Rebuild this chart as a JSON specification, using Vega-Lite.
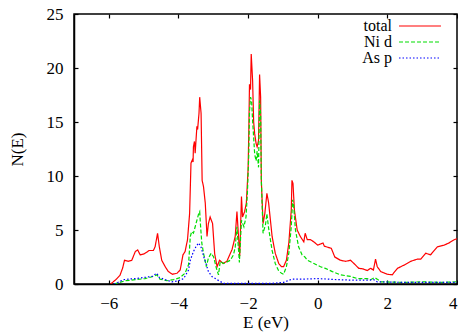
{
  "$schema": "https://vega.github.io/schema/vega-lite/v6.json",
  "width": 383,
  "height": 270,
  "autosize": "none",
  "padding": {"left": 74, "top": 14, "right": 1, "bottom": 49},
  "background": "white",
  "config": {
    "view": {"stroke": "black", "strokeWidth": 1.5},
    "font": "Liberation Serif",
    "axis": {
      "grid": false,
      "domainColor": "black",
      "domainWidth": 1.5,
      "tickColor": "black",
      "tickWidth": 1.2,
      "tickSize": -4,
      "labelFont": "Liberation Serif",
      "labelFontSize": 17,
      "labelColor": "black",
      "labelPadding": 15,
      "titleFont": "Liberation Serif",
      "titleFontSize": 17,
      "titleFontWeight": "normal",
      "titleColor": "black"
    },
    "legend": {
      "labelFont": "Liberation Serif",
      "labelFontSize": 16,
      "labelColor": "black"
    }
  },
  "data": {
    "values": [
      {"E": -5.95, "N": 0, "s": "total"},
      {"E": -5.8, "N": 0.4, "s": "total"},
      {"E": -5.68, "N": 0.8, "s": "total"},
      {"E": -5.6, "N": 1.5, "s": "total"},
      {"E": -5.55, "N": 2.2, "s": "total"},
      {"E": -5.44, "N": 2.1, "s": "total"},
      {"E": -5.34, "N": 2.2, "s": "total"},
      {"E": -5.24, "N": 3.0, "s": "total"},
      {"E": -5.17, "N": 3.15, "s": "total"},
      {"E": -5.1, "N": 2.7, "s": "total"},
      {"E": -4.98, "N": 2.8, "s": "total"},
      {"E": -4.84, "N": 3.1, "s": "total"},
      {"E": -4.72, "N": 3.1, "s": "total"},
      {"E": -4.67, "N": 3.45, "s": "total"},
      {"E": -4.6, "N": 4.7, "s": "total"},
      {"E": -4.55, "N": 3.45, "s": "total"},
      {"E": -4.48, "N": 2.2, "s": "total"},
      {"E": -4.38, "N": 1.6, "s": "total"},
      {"E": -4.29, "N": 1.15, "s": "total"},
      {"E": -4.17, "N": 0.9, "s": "total"},
      {"E": -4.04, "N": 1.0, "s": "total"},
      {"E": -3.95, "N": 1.3, "s": "total"},
      {"E": -3.87, "N": 2.7, "s": "total"},
      {"E": -3.81, "N": 3.0, "s": "total"},
      {"E": -3.74, "N": 4.1, "s": "total"},
      {"E": -3.68, "N": 6.5, "s": "total"},
      {"E": -3.64, "N": 11.2, "s": "total"},
      {"E": -3.6, "N": 11.5, "s": "total"},
      {"E": -3.58, "N": 11.3, "s": "total"},
      {"E": -3.57, "N": 12.7, "s": "total"},
      {"E": -3.54, "N": 13.2, "s": "total"},
      {"E": -3.52, "N": 12.1, "s": "total"},
      {"E": -3.47, "N": 14.6, "s": "total"},
      {"E": -3.45, "N": 14.3, "s": "total"},
      {"E": -3.41, "N": 15.8, "s": "total"},
      {"E": -3.39, "N": 17.3, "s": "total"},
      {"E": -3.35, "N": 15.8, "s": "total"},
      {"E": -3.32, "N": 9.6, "s": "total"},
      {"E": -3.28, "N": 9.0, "s": "total"},
      {"E": -3.23, "N": 7.5, "s": "total"},
      {"E": -3.18, "N": 4.4, "s": "total"},
      {"E": -3.14, "N": 5.6, "s": "total"},
      {"E": -3.09, "N": 6.2, "s": "total"},
      {"E": -3.02, "N": 5.6, "s": "total"},
      {"E": -2.96, "N": 2.8, "s": "total"},
      {"E": -2.89, "N": 1.6, "s": "total"},
      {"E": -2.82, "N": 2.2, "s": "total"},
      {"E": -2.72, "N": 1.9, "s": "total"},
      {"E": -2.61, "N": 2.1, "s": "total"},
      {"E": -2.46, "N": 3.2, "s": "total"},
      {"E": -2.37, "N": 4.4, "s": "total"},
      {"E": -2.32, "N": 6.7, "s": "total"},
      {"E": -2.24, "N": 2.6, "s": "total"},
      {"E": -2.19, "N": 8.1, "s": "total"},
      {"E": -2.16, "N": 6.2, "s": "total"},
      {"E": -2.1, "N": 6.7, "s": "total"},
      {"E": -2.05, "N": 7.5, "s": "total"},
      {"E": -2.0, "N": 10.6, "s": "total"},
      {"E": -1.98, "N": 14.0, "s": "total"},
      {"E": -1.96, "N": 18.5, "s": "total"},
      {"E": -1.93, "N": 18.0, "s": "total"},
      {"E": -1.91, "N": 21.3, "s": "total"},
      {"E": -1.87, "N": 18.8, "s": "total"},
      {"E": -1.84, "N": 15.0, "s": "total"},
      {"E": -1.81, "N": 13.9, "s": "total"},
      {"E": -1.77, "N": 13.0, "s": "total"},
      {"E": -1.74, "N": 12.7, "s": "total"},
      {"E": -1.7, "N": 13.3, "s": "total"},
      {"E": -1.67, "N": 19.4, "s": "total"},
      {"E": -1.64, "N": 17.3, "s": "total"},
      {"E": -1.62, "N": 9.6, "s": "total"},
      {"E": -1.57, "N": 5.6, "s": "total"},
      {"E": -1.52, "N": 6.5, "s": "total"},
      {"E": -1.46, "N": 8.4, "s": "total"},
      {"E": -1.41, "N": 7.5, "s": "total"},
      {"E": -1.31, "N": 4.4, "s": "total"},
      {"E": -1.22, "N": 2.85, "s": "total"},
      {"E": -1.12, "N": 1.9, "s": "total"},
      {"E": -1.04, "N": 1.6, "s": "total"},
      {"E": -0.98, "N": 1.6, "s": "total"},
      {"E": -0.9, "N": 2.2, "s": "total"},
      {"E": -0.83, "N": 3.8, "s": "total"},
      {"E": -0.76, "N": 6.85, "s": "total"},
      {"E": -0.74, "N": 9.6, "s": "total"},
      {"E": -0.71, "N": 9.3, "s": "total"},
      {"E": -0.67, "N": 6.85, "s": "total"},
      {"E": -0.59, "N": 5.0, "s": "total"},
      {"E": -0.5, "N": 4.4, "s": "total"},
      {"E": -0.4, "N": 3.9, "s": "total"},
      {"E": -0.36, "N": 4.7, "s": "total"},
      {"E": -0.3, "N": 4.1, "s": "total"},
      {"E": -0.21, "N": 4.1, "s": "total"},
      {"E": -0.11, "N": 3.9, "s": "total"},
      {"E": 0.0, "N": 3.6, "s": "total"},
      {"E": 0.15, "N": 3.8, "s": "total"},
      {"E": 0.19, "N": 3.5, "s": "total"},
      {"E": 0.29, "N": 3.4, "s": "total"},
      {"E": 0.39, "N": 3.3, "s": "total"},
      {"E": 0.49, "N": 2.5, "s": "total"},
      {"E": 0.65, "N": 2.2, "s": "total"},
      {"E": 0.8, "N": 2.1, "s": "total"},
      {"E": 0.94, "N": 2.2, "s": "total"},
      {"E": 1.04, "N": 1.9, "s": "total"},
      {"E": 1.18, "N": 1.45, "s": "total"},
      {"E": 1.3, "N": 1.4, "s": "total"},
      {"E": 1.42, "N": 1.25, "s": "total"},
      {"E": 1.52, "N": 1.45, "s": "total"},
      {"E": 1.6, "N": 1.3, "s": "total"},
      {"E": 1.66, "N": 2.3, "s": "total"},
      {"E": 1.71, "N": 1.6, "s": "total"},
      {"E": 1.81, "N": 1.15, "s": "total"},
      {"E": 2.0, "N": 0.9, "s": "total"},
      {"E": 2.14, "N": 0.85, "s": "total"},
      {"E": 2.29, "N": 1.45, "s": "total"},
      {"E": 2.48, "N": 1.75, "s": "total"},
      {"E": 2.67, "N": 2.1, "s": "total"},
      {"E": 2.86, "N": 2.3, "s": "total"},
      {"E": 2.96, "N": 2.3, "s": "total"},
      {"E": 3.1, "N": 2.85, "s": "total"},
      {"E": 3.24, "N": 2.7, "s": "total"},
      {"E": 3.44, "N": 3.45, "s": "total"},
      {"E": 3.63, "N": 3.6, "s": "total"},
      {"E": 3.77, "N": 3.8, "s": "total"},
      {"E": 3.92, "N": 4.1, "s": "total"},
      {"E": 4.0, "N": 4.2, "s": "total"},

      {"E": -5.85, "N": 0, "s": "Ni d"},
      {"E": -5.53, "N": 0.3, "s": "Ni d"},
      {"E": -5.24, "N": 0.4, "s": "Ni d"},
      {"E": -4.96, "N": 0.5, "s": "Ni d"},
      {"E": -4.72, "N": 0.7, "s": "Ni d"},
      {"E": -4.62, "N": 0.85, "s": "Ni d"},
      {"E": -4.53, "N": 0.45, "s": "Ni d"},
      {"E": -4.33, "N": 0.3, "s": "Ni d"},
      {"E": -4.14, "N": 0.4, "s": "Ni d"},
      {"E": -3.95, "N": 0.6, "s": "Ni d"},
      {"E": -3.81, "N": 1.0, "s": "Ni d"},
      {"E": -3.71, "N": 1.8, "s": "Ni d"},
      {"E": -3.66, "N": 4.4, "s": "Ni d"},
      {"E": -3.62, "N": 4.85, "s": "Ni d"},
      {"E": -3.57, "N": 4.7, "s": "Ni d"},
      {"E": -3.52, "N": 5.3, "s": "Ni d"},
      {"E": -3.47, "N": 5.9, "s": "Ni d"},
      {"E": -3.42, "N": 6.5, "s": "Ni d"},
      {"E": -3.39, "N": 6.7, "s": "Ni d"},
      {"E": -3.37, "N": 5.6, "s": "Ni d"},
      {"E": -3.33, "N": 3.8, "s": "Ni d"},
      {"E": -3.28, "N": 2.85, "s": "Ni d"},
      {"E": -3.2, "N": 1.6, "s": "Ni d"},
      {"E": -3.14, "N": 2.4, "s": "Ni d"},
      {"E": -3.06, "N": 2.85, "s": "Ni d"},
      {"E": -2.99, "N": 2.5, "s": "Ni d"},
      {"E": -2.91, "N": 1.45, "s": "Ni d"},
      {"E": -2.85, "N": 0.85, "s": "Ni d"},
      {"E": -2.8, "N": 2.1, "s": "Ni d"},
      {"E": -2.7, "N": 1.9, "s": "Ni d"},
      {"E": -2.51, "N": 2.2, "s": "Ni d"},
      {"E": -2.42, "N": 2.7, "s": "Ni d"},
      {"E": -2.37, "N": 3.4, "s": "Ni d"},
      {"E": -2.32, "N": 5.3, "s": "Ni d"},
      {"E": -2.25, "N": 2.0, "s": "Ni d"},
      {"E": -2.19, "N": 5.9, "s": "Ni d"},
      {"E": -2.12, "N": 5.3, "s": "Ni d"},
      {"E": -2.06, "N": 6.2, "s": "Ni d"},
      {"E": -2.02, "N": 8.4, "s": "Ni d"},
      {"E": -1.98, "N": 12.0, "s": "Ni d"},
      {"E": -1.96, "N": 16.0, "s": "Ni d"},
      {"E": -1.93, "N": 17.3, "s": "Ni d"},
      {"E": -1.9, "N": 17.0, "s": "Ni d"},
      {"E": -1.87, "N": 15.1, "s": "Ni d"},
      {"E": -1.81, "N": 12.0, "s": "Ni d"},
      {"E": -1.77, "N": 11.4, "s": "Ni d"},
      {"E": -1.74, "N": 12.3, "s": "Ni d"},
      {"E": -1.7, "N": 10.8, "s": "Ni d"},
      {"E": -1.67, "N": 17.0, "s": "Ni d"},
      {"E": -1.64, "N": 15.7, "s": "Ni d"},
      {"E": -1.62, "N": 9.6, "s": "Ni d"},
      {"E": -1.57, "N": 4.7, "s": "Ni d"},
      {"E": -1.5, "N": 5.5, "s": "Ni d"},
      {"E": -1.46, "N": 6.5, "s": "Ni d"},
      {"E": -1.41, "N": 5.15, "s": "Ni d"},
      {"E": -1.31, "N": 3.1, "s": "Ni d"},
      {"E": -1.22, "N": 1.9, "s": "Ni d"},
      {"E": -1.12, "N": 1.2, "s": "Ni d"},
      {"E": -1.04, "N": 1.0, "s": "Ni d"},
      {"E": -0.98, "N": 0.9, "s": "Ni d"},
      {"E": -0.9, "N": 1.6, "s": "Ni d"},
      {"E": -0.83, "N": 2.85, "s": "Ni d"},
      {"E": -0.76, "N": 5.3, "s": "Ni d"},
      {"E": -0.72, "N": 7.8, "s": "Ni d"},
      {"E": -0.69, "N": 7.2, "s": "Ni d"},
      {"E": -0.64, "N": 5.0, "s": "Ni d"},
      {"E": -0.55, "N": 3.45, "s": "Ni d"},
      {"E": -0.45, "N": 2.7, "s": "Ni d"},
      {"E": -0.37, "N": 2.5, "s": "Ni d"},
      {"E": -0.3, "N": 2.2, "s": "Ni d"},
      {"E": -0.11, "N": 1.9, "s": "Ni d"},
      {"E": 0.08, "N": 1.6, "s": "Ni d"},
      {"E": 0.22, "N": 1.45, "s": "Ni d"},
      {"E": 0.42, "N": 1.15, "s": "Ni d"},
      {"E": 0.65, "N": 0.85, "s": "Ni d"},
      {"E": 0.94, "N": 0.7, "s": "Ni d"},
      {"E": 1.14, "N": 0.5, "s": "Ni d"},
      {"E": 1.42, "N": 0.5, "s": "Ni d"},
      {"E": 1.52, "N": 0.4, "s": "Ni d"},
      {"E": 1.63, "N": 0.6, "s": "Ni d"},
      {"E": 1.71, "N": 0.45, "s": "Ni d"},
      {"E": 1.81, "N": 0.2, "s": "Ni d"},
      {"E": 2.5, "N": 0.15, "s": "Ni d"},
      {"E": 3.0, "N": 0.2, "s": "Ni d"},
      {"E": 3.5, "N": 0.15, "s": "Ni d"},
      {"E": 4.0, "N": 0.2, "s": "Ni d"},

      {"E": -5.85, "N": 0, "s": "As p"},
      {"E": -5.77, "N": 0.1, "s": "As p"},
      {"E": -5.58, "N": 0.4, "s": "As p"},
      {"E": -5.44, "N": 0.45, "s": "As p"},
      {"E": -5.24, "N": 0.5, "s": "As p"},
      {"E": -5.0, "N": 0.6, "s": "As p"},
      {"E": -4.76, "N": 0.7, "s": "As p"},
      {"E": -4.62, "N": 1.0, "s": "As p"},
      {"E": -4.55, "N": 0.6, "s": "As p"},
      {"E": -4.38, "N": 0.4, "s": "As p"},
      {"E": -4.19, "N": 0.2, "s": "As p"},
      {"E": -4.0, "N": 0.3, "s": "As p"},
      {"E": -3.85, "N": 0.5, "s": "As p"},
      {"E": -3.71, "N": 1.3, "s": "As p"},
      {"E": -3.66, "N": 2.2, "s": "As p"},
      {"E": -3.57, "N": 3.0, "s": "As p"},
      {"E": -3.49, "N": 3.5, "s": "As p"},
      {"E": -3.42, "N": 3.8, "s": "As p"},
      {"E": -3.35, "N": 3.4, "s": "As p"},
      {"E": -3.28, "N": 2.6, "s": "As p"},
      {"E": -3.2, "N": 1.8, "s": "As p"},
      {"E": -3.14, "N": 1.15, "s": "As p"},
      {"E": -3.04, "N": 0.7, "s": "As p"},
      {"E": -2.89, "N": 0.4, "s": "As p"},
      {"E": -2.7, "N": 0.05, "s": "As p"},
      {"E": -2.0, "N": 0.05, "s": "As p"},
      {"E": -1.36, "N": 0.05, "s": "As p"},
      {"E": -0.98, "N": 0.15, "s": "As p"},
      {"E": -0.74, "N": 0.45, "s": "As p"},
      {"E": -0.4, "N": 0.45, "s": "As p"},
      {"E": 0.0, "N": 0.5, "s": "As p"},
      {"E": 0.6, "N": 0.4, "s": "As p"},
      {"E": 1.04, "N": 0.35, "s": "As p"},
      {"E": 1.47, "N": 0.35, "s": "As p"},
      {"E": 1.61, "N": 0.4, "s": "As p"},
      {"E": 1.71, "N": 0.2, "s": "As p"},
      {"E": 2.5, "N": 0.15, "s": "As p"},
      {"E": 3.5, "N": 0.15, "s": "As p"},
      {"E": 4.0, "N": 0.15, "s": "As p"}
    ]
  },
  "layer": [
    {
      "mark": {"type": "line", "strokeWidth": 1.2, "clip": true},
      "encoding": {
        "x": {
          "field": "E", "type": "quantitative",
          "scale": {"domain": [-7, 4], "nice": false, "zero": false},
          "axis": {"values": [-6, -4, -2, 0, 2, 4], "title": "E (eV)", "titlePadding": 3}
        },
        "y": {
          "field": "N", "type": "quantitative",
          "scale": {"domain": [0, 25], "nice": false},
          "axis": {"values": [0, 5, 10, 15, 20, 25], "title": "N(E)", "titlePadding": 20}
        },
        "color": {
          "field": "s", "type": "nominal",
          "scale": {"domain": ["total", "Ni d", "As p"], "range": ["#ff0000", "#00dd00", "#0000ff"]},
          "legend": {
            "title": null,
            "orient": "none",
            "legendX": 338,
            "legendY": 4,
            "padding": 0,
            "symbolType": "M-4,0H4",
            "symbolSize": 110,
            "symbolStrokeWidth": 1.2,
            "rowPadding": 0,
            "labelAlign": "right",
            "labelOffset": -36
          }
        },
        "strokeDash": {
          "field": "s", "type": "nominal",
          "scale": {"domain": ["total", "Ni d", "As p"], "range": [[1, 0], [4, 2], [1.5, 2]]},
          "legend": {
            "title": null,
            "orient": "none",
            "legendX": 338,
            "legendY": 4,
            "padding": 0,
            "symbolType": "M-4,0H4",
            "symbolSize": 110,
            "symbolStrokeWidth": 1.2,
            "rowPadding": 0,
            "labelAlign": "right",
            "labelOffset": -36
          }
        }
      }
    },
    {
      "mark": {"type": "line", "opacity": 0},
      "encoding": {
        "x": {
          "field": "E", "type": "quantitative",
          "axis": {"orient": "top", "values": [-6, -4, -2, 0, 2, 4], "labels": false, "title": null, "domain": false}
        },
        "y": {
          "field": "N", "type": "quantitative",
          "axis": {"orient": "right", "values": [0, 5, 10, 15, 20, 25], "labels": false, "title": null, "domain": false}
        },
        "detail": {"field": "s"}
      }
    }
  ],
  "resolve": {"axis": {"x": "independent", "y": "independent"}}
}
